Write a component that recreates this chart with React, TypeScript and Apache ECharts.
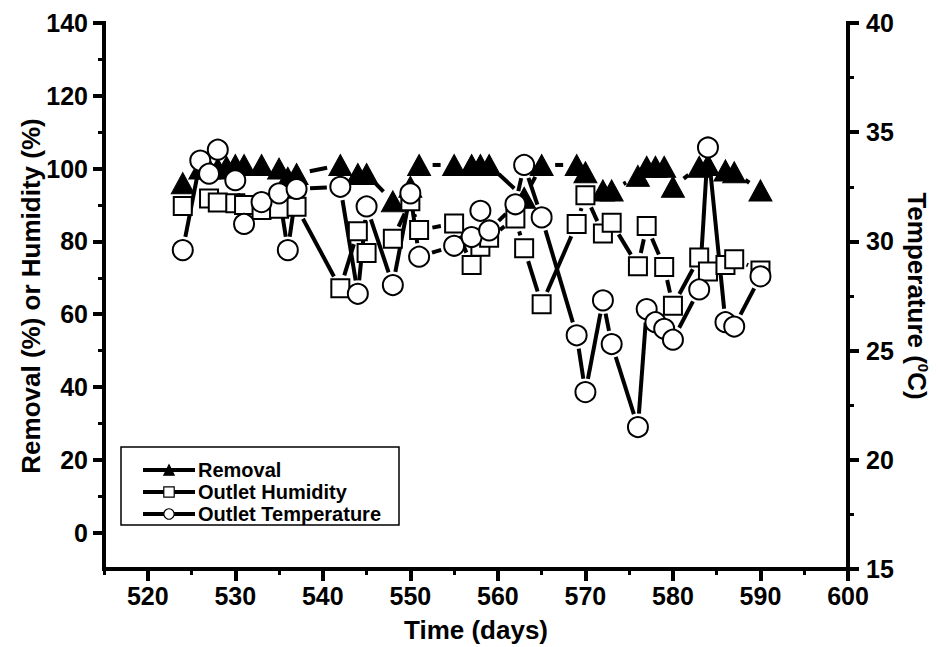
import React, { useEffect, useRef } from 'react';
import * as echarts from 'echarts';

// ---------------- data ----------------
const removalDays = [524, 526, 527, 528, 529, 530, 531, 533, 535, 536, 537, 542, 544, 545, 548, 550, 551, 555, 557, 558, 559, 563, 565, 569, 570, 572, 573, 576, 577, 578, 579, 580, 583, 584, 586, 587, 590];
const removal = [96, 100, 100, 100, 100.5, 101, 101, 101, 100, 97.5, 98.5, 101, 98.5, 98.5, 91, 95, 101, 101, 101, 101, 101, 92, 101, 101, 99, 94, 94, 98, 100.5, 100.5, 100.5, 95, 100.5, 101, 99.5, 99, 94];

const humidityDays = [524, 527, 528, 530, 531, 533, 535, 537, 542, 544, 545, 548, 550, 551, 555, 557, 558, 559, 562, 563, 565, 569, 570, 572, 573, 576, 577, 579, 580, 583, 584, 586, 587, 590];
const humidity = [89.7, 91.8, 90.7, 90.5, 90.0, 88.6, 89.0, 89.5, 67.1, 82.8, 76.8, 80.7, 91, 83.1, 84.9, 73.5, 78.5, 81, 86.3, 78.1, 62.7, 84.8, 92.7, 82.2, 85.1, 73.2, 84.2, 73.0, 62.3, 75.6, 71.7, 73.5, 75.1, 72.0];

const tempDays = [524, 526, 527, 528, 530, 531, 533, 535, 536, 537, 542, 544, 545, 548, 550, 551, 555, 557, 558, 559, 562, 563, 565, 569, 570, 572, 573, 576, 577, 578, 579, 580, 583, 584, 586, 587, 590];
const temperature = [29.6, 33.7, 33.1, 34.2, 32.8, 30.8, 31.8, 32.2, 29.6, 32.4, 32.5, 27.6, 31.6, 28.0, 32.2, 29.3, 29.8, 30.2, 31.4, 30.5, 31.7, 33.5, 31.1, 25.7, 23.1, 27.3, 25.3, 21.5, 26.9, 26.3, 26.0, 25.5, 27.8, 34.3, 26.3, 26.1, 28.4];

const xTicks = [520, 530, 540, 550, 560, 570, 580, 590, 600];
const leftTicks = [0, 20, 40, 60, 80, 100, 120, 140];
const leftMinorTicks = [10, 30, 50, 70, 90, 110, 130];

const seriesNames = ['Removal', 'Outlet Humidity', 'Outlet Temperature'];

function pairs(days: number[], vals: number[]) {
  return days.map((d, i) => [d, vals[i]]);
}
function segments(days: number[], vals: number[]) {
  const s: number[][] = [];
  for (let i = 0; i < days.length - 1; i++) s.push([days[i], vals[i], days[i + 1], vals[i + 1]]);
  return s;
}

const GAP = 13.5;
const FONT = 'Liberation Sans';

function gapLineSeries(data: number[][], yAxisIndex: number) {
  return {
    type: 'custom',
    coordinateSystem: 'cartesian2d',
    xAxisIndex: 0,
    yAxisIndex,
    silent: true,
    encode: { x: [0, 2], y: [1, 3] },
    data,
    renderItem: (params: any, api: any) => {
      const a = api.coord([api.value(0), api.value(1)]);
      const b = api.coord([api.value(2), api.value(3)]);
      const dx = b[0] - a[0];
      const dy = b[1] - a[1];
      const len = Math.sqrt(dx * dx + dy * dy);
      if (len <= 2 * GAP + 1) return { type: 'group', children: [] };
      const ux = dx / len;
      const uy = dy / len;
      return {
        type: 'line',
        shape: { x1: a[0] + ux * GAP, y1: a[1] + uy * GAP, x2: b[0] - ux * GAP, y2: b[1] - uy * GAP },
        style: { stroke: '#000', lineWidth: 4, lineCap: 'butt' },
      };
    },
  };
}

export default function App() {
  const ref = useRef<HTMLDivElement>(null);
  useEffect(() => {
    document.body.style.margin = '0';
    const chart = echarts.init(ref.current as HTMLDivElement, null, { renderer: 'svg' });
    const axisLine = { show: true, onZero: false, lineStyle: { color: '#000', width: 4, cap: 'square' } };
    const labelStyle = { fontSize: 25, fontWeight: 'bold', fontFamily: FONT, color: '#000' };
    const nameStyle = { fontSize: 26, fontWeight: 'bold', fontFamily: FONT, color: '#000' };
    const option: any = {
      animation: false,
      backgroundColor: '#fff',
      grid: { left: 104, right: 90, top: 23, bottom: 78, containLabel: false, outerBoundsMode: 'none' },
      legend: {
        data: seriesNames,
        orient: 'vertical',
        left: 121,
        top: 447,
        padding: [13, 18, 1, 20],
        itemGap: 2,
        itemWidth: 52,
        itemHeight: 13,
        selectedMode: false,
        borderColor: '#000',
        borderWidth: 1.5,
        borderRadius: 0,
        textStyle: { fontSize: 20, fontWeight: 'bold', fontFamily: FONT, color: '#000', padding: [0, 0, 0, -2] },
        lineStyle: { width: 4, color: '#000', opacity: 1, type: 'solid' },
        itemStyle: { borderWidth: 1.2 },
      },
      xAxis: [
        {
          type: 'value', min: 515, max: 600, position: 'bottom',
          axisLine,
          axisTick: { show: true, customValues: xTicks, length: 12, lineStyle: { color: '#000', width: 4 } },
          axisLabel: { show: true, customValues: xTicks, margin: 14, ...labelStyle },
          splitLine: { show: false },
          name: 'Time (days)', nameLocation: 'middle', nameGap: 48, nameMoveOverlap: false, nameTextStyle: nameStyle,
        },
        {
          type: 'value', min: 515, max: 600, interval: 5, position: 'bottom',
          axisLine: { show: false, onZero: false },
          axisTick: { show: true, length: 6, lineStyle: { color: '#000', width: 3 } },
          axisLabel: { show: false },
          splitLine: { show: false },
        },
      ],
      yAxis: [
        {
          type: 'value', min: -10, max: 140, position: 'left',
          axisLine,
          axisTick: { show: true, customValues: leftTicks, length: 11, lineStyle: { color: '#000', width: 4 } },
          axisLabel: { show: true, customValues: leftTicks, margin: 16, ...labelStyle },
          splitLine: { show: false },
          name: 'Removal (%) or Humidity (%)', nameLocation: 'middle', nameRotate: 90, nameGap: 60, nameMoveOverlap: false, nameTextStyle: nameStyle,
        },
        {
          type: 'value', min: -10, max: 140, position: 'left',
          axisLine: { show: false, onZero: false },
          axisTick: { show: true, customValues: leftMinorTicks, length: 6, lineStyle: { color: '#000', width: 3 } },
          axisLabel: { show: false },
          splitLine: { show: false },
        },
        {
          type: 'value', min: 15, max: 40, interval: 5, position: 'right',
          axisLine,
          axisTick: { show: true, length: 11, lineStyle: { color: '#000', width: 4 } },
          axisLabel: { show: true, margin: 18, ...labelStyle },
          splitLine: { show: false },
          name: 'Temperature ({sup|0}C)', nameLocation: 'middle', nameRotate: -90, nameGap: 54, nameMoveOverlap: false,
          nameTextStyle: { ...nameStyle, rich: { sup: { fontSize: 15, fontWeight: 'bold', fontFamily: FONT, color: '#000', padding: [0, 0, 14, 0] } } },
        },
        {
          type: 'value', min: 15, max: 40, interval: 2.5, position: 'right',
          axisLine: { show: false, onZero: false },
          axisTick: { show: true, length: 6, lineStyle: { color: '#000', width: 3 } },
          axisLabel: { show: false },
          splitLine: { show: false },
        },
      ],
      series: [
        gapLineSeries(segments(removalDays, removal), 0),
        {
          name: seriesNames[0], type: 'line', xAxisIndex: 0, yAxisIndex: 0,
          data: pairs(removalDays, removal),
          symbol: 'triangle', symbolSize: [23, 21], showAllSymbol: true,
          lineStyle: { width: 0, opacity: 0 },
          itemStyle: { color: '#000', borderColor: '#000', borderWidth: 1 },
        },
        gapLineSeries(segments(humidityDays, humidity), 0),
        {
          name: seriesNames[1], type: 'line', xAxisIndex: 0, yAxisIndex: 0,
          data: pairs(humidityDays, humidity),
          symbol: 'rect', symbolSize: 18, showAllSymbol: true,
          lineStyle: { width: 0, opacity: 0 },
          itemStyle: { color: '#fff', borderColor: '#000', borderWidth: 2 },
        },
        gapLineSeries(segments(tempDays, temperature), 2),
        {
          name: seriesNames[2], type: 'line', xAxisIndex: 0, yAxisIndex: 2,
          data: pairs(tempDays, temperature),
          symbol: 'circle', symbolSize: 20, showAllSymbol: true,
          lineStyle: { width: 0, opacity: 0 },
          itemStyle: { color: '#fff', borderColor: '#000', borderWidth: 2 },
        },
      ],
    };
    chart.setOption(option);
    return () => chart.dispose();
  }, []);
  return <div ref={ref} style={{ width: 938, height: 647 }} />;
}
